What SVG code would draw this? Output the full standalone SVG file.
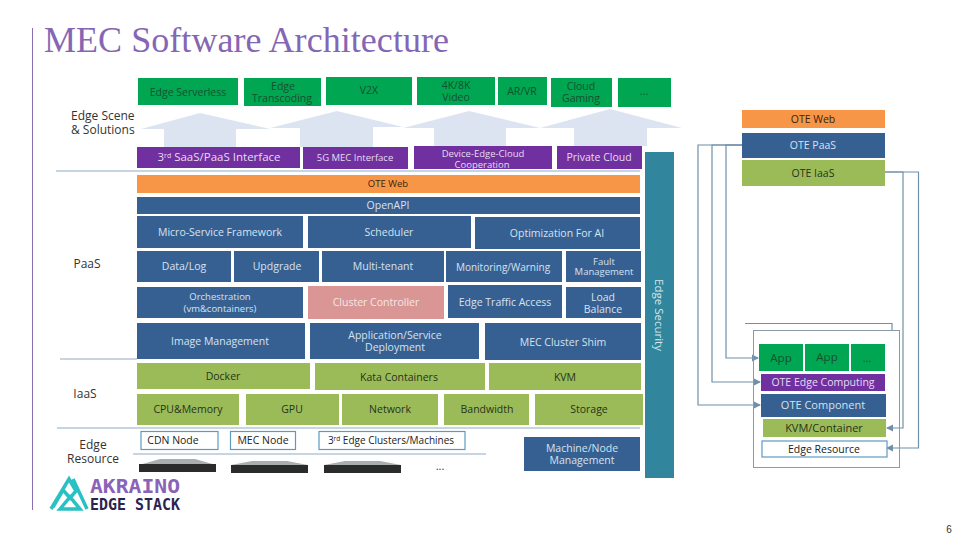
<svg xmlns="http://www.w3.org/2000/svg" width="960" height="540" viewBox="0 0 960 540">
<style>
text{font-family:"Open Sans","Noto Sans","Liberation Sans",sans-serif;font-size:10.5px;text-anchor:middle}
.g{fill:#00a651}.g+text,.g~text{fill:#17502f}
.p{fill:#7030a0}.p~text{fill:#e6dcf0}
.b{fill:#376092}.b~text{fill:#d5e2f0}
.o{fill:#f79646}.o~text{fill:#3a2410}
.l{fill:#9bbb59}.l~text{fill:#26331a}
.r{fill:#d99694}.r~text{fill:#f6e6e6}
.w{fill:#fff;stroke:#5c9ac4;stroke-width:1.2}.w~text{fill:#222}
.t{fill:#31859c}
.h{fill:#dbe4f0}
.lab text,text.lab{fill:#333;font-size:12px}
.rule{stroke:#8fa9c4;stroke-width:1;fill:none}
.c{stroke:#6f90a8;stroke-width:1.2;fill:none}
.srv{fill:#2b2b2b}.top{fill:#a9aeb0}
</style>
<defs>
<marker id="a" markerWidth="6" markerHeight="6" refX="5" refY="3" orient="auto"><path d="M0 0L6 3L0 6z" fill="#6f90a8"/></marker>
</defs>
<g id="title">
<line x1="32.500" y1="28" x2="32.500" y2="510" stroke="#8a6fb0" stroke-width="1"/>
<text x="44" y="52" style="font-family:'Liberation Serif',serif;font-size:36px;text-anchor:start;fill:#8566b4" textLength="405">MEC Software Architecture</text>
</g>
<g id="arrows">
<polygon class="h" points="200,113 270,129 236,129 236,147 164,147 164,129 141,129"/>
<polygon class="h" points="337,111 403,127 373,127 373,147 300,147 300,128 270,128"/>
<polygon class="h" points="469,111 540,128 506,128 506,146 434,146 434,128 403,128"/>
<polygon class="h" points="610,109 682,128 647,128 647,146 574,146 574,128 540,128"/>
</g>
<g id="layer-rules">
<path class="rule" d="M56 171H640M60 359H137M57 428H640M133 454H486"/>
</g>
<g id="layer-labels">
<text class="lab" x="71" y="120" style="text-anchor:start">Edge Scene</text>
<text class="lab" x="71" y="134" style="text-anchor:start">&amp; Solutions</text>
<text class="lab" x="87" y="268">PaaS</text>
<text class="lab" x="85" y="398">IaaS</text>
<text class="lab" x="93" y="449">Edge</text>
<text class="lab" x="93" y="463">Resource</text>
</g>
<g id="edge-serverless"><rect class="g" x="138" y="78" width="100" height="27"/><text x="188" y="96">Edge Serverless</text></g>
<g id="edge-transcoding"><rect class="g" x="244" y="78" width="77" height="28"/><text x="283" y="90">Edge</text><text x="282" y="102">Transcoding</text></g>
<g id="v2x"><rect class="g" x="326" y="77" width="86" height="28"/><text x="369" y="94">V2X</text></g>
<g id="video"><rect class="g" x="417" y="77" width="78" height="28"/><text x="456" y="89">4K/8K</text><text x="456" y="101">Video</text></g>
<g id="arvr"><rect class="g" x="498" y="77" width="49" height="28"/><text x="522" y="95">AR/VR</text></g>
<g id="cloud-gaming"><rect class="g" x="551" y="78" width="61" height="29"/><text x="581" y="90">Cloud</text><text x="581" y="102">Gaming</text></g>
<g id="more-scenes"><rect class="g" x="618" y="78" width="53" height="29"/><text x="644" y="95">...</text></g>
<g id="saas-interface"><rect class="p" x="137" y="147" width="163" height="21"/><text x="219" y="161" style="font-size:11.500px">3<tspan dy="-3" font-size="7">rd</tspan><tspan dy="3"> SaaS/PaaS Interface</tspan></text></g>
<g id="mec-interface"><rect class="p" x="303" y="147" width="105" height="22"/><text x="355" y="161" style="font-size:9.500px">5G MEC Interface</text></g>
<g id="device-edge-cloud"><rect class="p" x="414" y="146" width="138" height="23"/><text x="483" y="157" style="font-size:9.500px">Device-Edge-Cloud</text><text x="482" y="168" style="font-size:9.500px">Cooperation</text></g>
<g id="private-cloud"><rect class="p" x="557" y="146" width="85" height="23"/><text x="599" y="161">Private Cloud</text></g>
<g id="edge-security"><rect class="t" x="645" y="152" width="29" height="326"/><text transform="translate(655 315) rotate(90)" style="fill:#d5e8ee;font-size:11.500px">Edge Security</text></g>
<g id="ote-web"><rect class="o" x="137" y="175" width="503" height="18"/><text x="388" y="187" style="font-size:9.500px">OTE Web</text></g>
<g id="openapi"><rect class="b" x="137" y="197" width="503" height="17"/><text x="388" y="209">OpenAPI</text></g>
<g id="micro-service"><rect class="b" x="137" y="216" width="166" height="32"/><text x="220" y="236">Micro-Service Framework</text></g>
<g id="scheduler"><rect class="b" x="308" y="216" width="163" height="32"/><text x="389" y="236">Scheduler</text></g>
<g id="optimization"><rect class="b" x="475" y="217" width="165" height="32"/><text x="557" y="237">Optimization For AI</text></g>
<g id="data-log"><rect class="b" x="137" y="251" width="94" height="31"/><text x="184" y="270">Data/Log</text></g>
<g id="updgrade"><rect class="b" x="234" y="251" width="85" height="31"/><text x="277" y="270">Updgrade</text></g>
<g id="multi-tenant"><rect class="b" x="322" y="251" width="122" height="31"/><text x="383" y="270">Multi-tenant</text></g>
<g id="monitoring"><rect class="b" x="446" y="251" width="116" height="31"/><text x="503" y="271" style="font-size:10px">Monitoring/Warning</text></g>
<g id="fault"><rect class="b" x="566" y="251" width="75" height="31"/><text x="604" y="265" style="font-size:9.500px">Fault</text><text x="604" y="275" style="font-size:9.500px">Management</text></g>
<g id="orchestration"><rect class="b" x="137" y="287" width="166" height="31"/><text x="220" y="300" style="font-size:9.500px">Orchestration</text><text x="220" y="312" style="font-size:9.500px">(vm&amp;containers)</text></g>
<g id="cluster-controller"><rect class="r" x="308" y="286" width="136" height="33"/><text x="376" y="306">Cluster Controller</text></g>
<g id="edge-traffic"><rect class="b" x="448" y="285" width="114" height="33"/><text x="505" y="306">Edge Traffic Access</text></g>
<g id="load-balance"><rect class="b" x="566" y="287" width="75" height="31"/><text x="603" y="301">Load</text><text x="603" y="313">Balance</text></g>
<g id="image-management"><rect class="b" x="137" y="323" width="168" height="36"/><text x="220" y="345">Image Management</text></g>
<g id="app-service"><rect class="b" x="310" y="323" width="169" height="36"/><text x="395" y="339">Application/Service</text><text x="395" y="351">Deployment</text></g>
<g id="cluster-shim"><rect class="b" x="485" y="323" width="156" height="37"/><text x="563" y="346">MEC  Cluster Shim</text></g>
<g id="docker"><rect class="l" x="137" y="363" width="173" height="26"/><text x="223" y="380">Docker</text></g>
<g id="kata"><rect class="l" x="315" y="363" width="170" height="27"/><text x="399" y="381">Kata Containers</text></g>
<g id="kvm"><rect class="l" x="489" y="363" width="152" height="27"/><text x="565" y="381">KVM</text></g>
<g id="cpu"><rect class="l" x="137" y="394" width="102" height="31"/><text x="188" y="413">CPU&amp;Memory</text></g>
<g id="gpu"><rect class="l" x="246" y="394" width="93" height="31"/><text x="292" y="413">GPU</text></g>
<g id="network"><rect class="l" x="342" y="394" width="96" height="31"/><text x="390" y="413">Network</text></g>
<g id="bandwidth"><rect class="l" x="444" y="394" width="85" height="31"/><text x="487" y="413">Bandwidth</text></g>
<g id="storage"><rect class="l" x="535" y="394" width="108" height="31"/><text x="589" y="413">Storage</text></g>
<g id="cdn-node"><rect class="w" x="141" y="431.500" width="77" height="18"/><text x="173" y="444">CDN Node</text></g>
<g id="mec-node"><rect class="w" x="230.500" y="431.500" width="65" height="18"/><text x="263" y="444">MEC Node</text></g>
<g id="edge-clusters"><rect class="w" x="319" y="431.500" width="146" height="18"/><text x="391" y="444" style="font-size:10px">3<tspan dy="-3" font-size="6.500">rd</tspan><tspan dy="3"> Edge Clusters/Machines</tspan></text></g>
<g id="servers">
<polygon class="top" points="139,465 160,459 195,459 216,465"/><rect class="srv" x="139" y="464" width="77" height="8"/>
<polygon class="top" points="231,465 252,461 287,461 308,465"/><rect class="srv" x="231" y="465" width="77" height="8"/>
<polygon class="top" points="324,465 345,461 380,461 401,465"/><rect class="srv" x="324" y="465" width="77" height="8"/>
<text x="440" y="470" style="fill:#333;font-size:11px">...</text>
</g>
<g id="machine-management"><rect class="b" x="524" y="437" width="116" height="34"/><text x="582" y="452">Machine/Node</text><text x="582" y="464">Management</text></g>
<g id="logo">
<path d="M51 509L69 479L76 491L70 498L63 490L53 507M60 509L70 497L80 509ZM73 479L87 509" fill="none" stroke="#2ac1c4" stroke-width="3.500"/>
<text x="90" y="493" textLength="90" lengthAdjust="spacingAndGlyphs" style="font-family:'DejaVu Sans Mono',monospace;font-weight:700;font-size:19px;fill:#8a63b8;text-anchor:start">AKRAINO</text>
<text x="90" y="510" textLength="90" lengthAdjust="spacingAndGlyphs" style="font-family:'DejaVu Sans Mono',monospace;font-weight:700;font-size:16px;fill:#2b2350;text-anchor:start">EDGE STACK</text>
</g>
<g id="page-number"><text x="949" y="533" style="font-family:'Liberation Sans',sans-serif;font-size:10px;fill:#333">6</text></g>
<g id="connectors">
<path class="c" d="M742 145H698V405H760" marker-end="url(#a)"/>
<path class="c" d="M742 145H712V382H760" marker-end="url(#a)"/>
<path class="c" d="M742 145H726V358H758" marker-end="url(#a)"/>
<path class="c" d="M885 172H903V428H887" marker-end="url(#a)"/>
<path class="c" d="M885 172H918.500V448H887" marker-end="url(#a)"/>
<path class="c" d="M745 323.500H892V330"/>
</g>
<g id="ote-stack">
<g id="side-web"><rect class="o" x="742" y="110" width="143" height="18"/><text x="813" y="123">OTE Web</text></g>
<g id="side-paas"><rect class="b" x="742" y="133" width="143" height="25"/><text x="813" y="149">OTE PaaS</text></g>
<g id="side-iaas"><rect class="l" x="742" y="160" width="143" height="26"/><text x="813" y="177">OTE IaaS</text></g>
<rect x="753.500" y="330.500" width="146" height="137" fill="none" stroke="#8b9aa6" stroke-width="1"/>
<g id="app-1"><rect class="g" x="759" y="344" width="44" height="27"/><text x="781" y="362" style="font-size:11.500px">App</text></g>
<g id="app-2"><rect class="g" x="805" y="344" width="44" height="27"/><text x="827" y="361" style="font-size:11.500px">App</text></g>
<g id="app-more"><rect class="g" x="851" y="344" width="34" height="27"/><text x="867" y="362">...</text></g>
<g id="edge-computing"><rect class="p" x="761" y="374" width="124" height="17"/><text x="823" y="386">OTE Edge Computing</text></g>
<g id="component"><rect class="b" x="761" y="394" width="125" height="23"/><text x="823" y="409" style="font-size:11px">OTE Component</text></g>
<g id="kvm-container"><rect class="l" x="763" y="419" width="123" height="18"/><text x="824" y="432" style="font-size:11px">KVM/Container</text></g>
<g id="edge-resource"><rect class="w" x="762" y="441" width="125" height="16"/><text x="824" y="453">Edge Resource</text></g>
</g>
</svg>
